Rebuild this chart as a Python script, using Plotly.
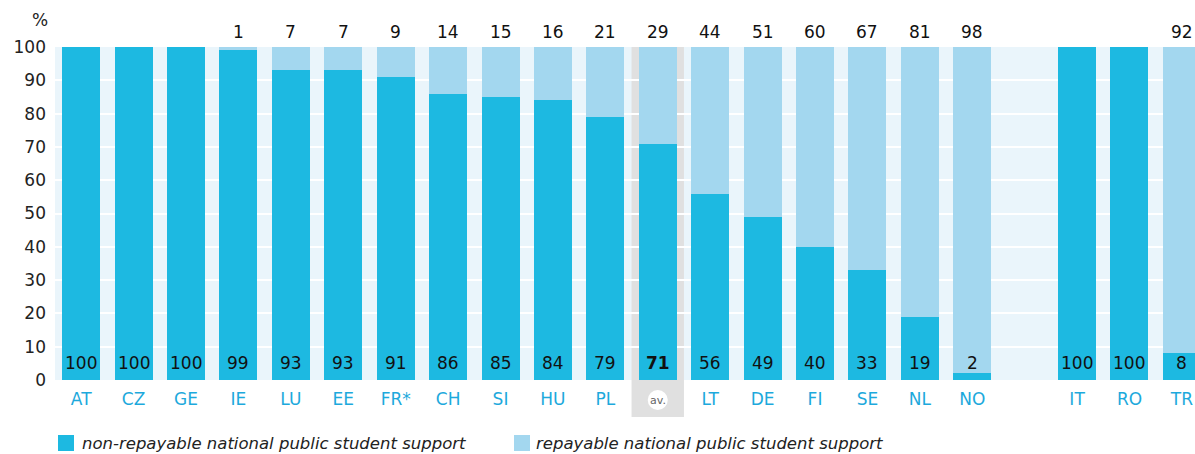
import plotly.graph_objects as go

categories = ["AT", "CZ", "GE", "IE", "LU", "EE", "FR*", "CH", "SI", "HU", "PL", "av.",
              "LT", "DE", "FI", "SE", "NL", "NO", " ", "IT", "RO", "TR"]
non_repayable = [100, 100, 100, 99, 93, 93, 91, 86, 85, 84, 79, 71, 56, 49, 40, 33, 19, 2, None, 100, 100, 8]
repayable = [0, 0, 0, 1, 7, 7, 9, 14, 15, 16, 21, 29, 44, 51, 60, 67, 81, 98, None, 0, 0, 92]
tick_labels = ["AT", "CZ", "GE", "IE", "LU", "EE", "FR*", "CH", "SI", "HU", "PL", "",
               "LT", "DE", "FI", "SE", "NL", "NO", "", "IT", "RO", "TR"]
y_ticks = [0, 10, 20, 30, 40, 50, 60, 70, 80, 90, 100]

DARK = "#1db9e1"
LIGHT = "#a3d7ef"
BG = "#eaf5fb"
FONT = "DejaVu Sans"

W, H = 1195, 454
ML, MR, MT, MB = 55, 0, 47, 74
PW = W - ML - MR
PH = H - MT - MB


def px_x(p):
    return (p - ML) / PW


def px_y(p):
    return (H - MB - p) / PH


fig = go.Figure()
fig.add_trace(go.Bar(x=categories, y=non_repayable, marker=dict(color=DARK, line_width=0),
                     name="non-repayable national public student support", showlegend=False))
fig.add_trace(go.Bar(x=categories, y=repayable, marker=dict(color=LIGHT, line_width=0),
                     name="repayable national public student support", showlegend=False))

annotations = []
for c, nv, rv in zip(categories, non_repayable, repayable):
    if nv is None:
        continue
    bold = c == "av."
    annotations.append(dict(x=c, y=0, yshift=17, text=f"<b>{nv}</b>" if bold else str(nv),
                            showarrow=False, yanchor="middle",
                            font=dict(size=17, color="#111111", family=FONT)))
    if rv:
        annotations.append(dict(x=c, y=100, yshift=15, text=str(rv), showarrow=False,
                                yanchor="middle",
                                font=dict(size=17, color="#111111", family=FONT)))

annotations.append(dict(x=px_x(40), xref="paper", y=px_y(20), yref="paper", text="%",
                        xanchor="center", yanchor="middle", showarrow=False,
                        font=dict(size=17, color="#222222", family=FONT)))
# "av." marker
annotations.append(dict(x="av.", y=px_y(400), yref="paper", text="av.", showarrow=False,
                        xanchor="center", yanchor="middle",
                        font=dict(size=11, color="#666666", family=FONT)))
# legend
annotations.append(dict(x=px_x(80), xref="paper", y=px_y(443), yref="paper", xanchor="left",
                        yanchor="middle",
                        text="<i>non-repayable national public student support</i>", showarrow=False,
                        font=dict(size=16.5, color="#222222", family=FONT)))
annotations.append(dict(x=px_x(534), xref="paper", y=px_y(443), yref="paper", xanchor="left",
                        yanchor="middle",
                        text="<i>repayable national public student support</i>", showarrow=False,
                        font=dict(size=16.5, color="#222222", family=FONT)))

shapes = [
    dict(type="rect", xref="x", yref="paper", x0=10.5, x1=11.5, y0=px_y(417), y1=1,
         fillcolor="#e0e0e0", line_width=0, layer="between"),
    dict(type="circle", xref="x", yref="paper", xsizemode="pixel", ysizemode="pixel",
         xanchor=11, yanchor=px_y(400), x0=-10, x1=10, y0=-10, y1=10,
         fillcolor="white", line_width=0, layer="above"),
    dict(type="rect", xref="paper", yref="paper", x0=px_x(58), x1=px_x(74), y0=px_y(451), y1=px_y(435),
         fillcolor=DARK, line_width=0),
    dict(type="rect", xref="paper", yref="paper", x0=px_x(514), x1=px_x(530), y0=px_y(451), y1=px_y(435),
         fillcolor=LIGHT, line_width=0),
]

fig.update_layout(
    barmode="stack",
    bargap=0.275,
    width=W, height=H,
    margin=dict(l=ML, r=MR, t=MT, b=MB, pad=0),
    paper_bgcolor="white",
    plot_bgcolor=BG,
    font=dict(family=FONT, color="#222222"),
    annotations=annotations,
    shapes=shapes,
    xaxis=dict(type="category", range=[-0.5, 21.25], tickvals=categories, ticktext=tick_labels,
               showgrid=False, zeroline=False, ticks="", ticklabelstandoff=7,
               tickfont=dict(size=17, color="#1da9dc", family=FONT), fixedrange=True),
    yaxis=dict(range=[0, 100], tickvals=y_ticks, showgrid=True, gridcolor="white", gridwidth=2,
               zeroline=False, ticks="", ticklabelstandoff=8,
               tickfont=dict(size=17, color="#222222", family=FONT), fixedrange=True),
)

fig.write_html("out.html", config={"displayModeBar": False},
               post_script="document.body.style.margin='0';document.body.style.overflow='hidden';")
